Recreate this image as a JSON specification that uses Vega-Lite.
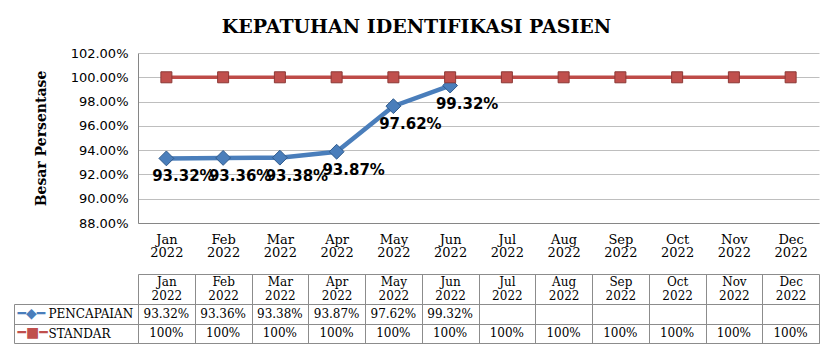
{
  "$schema": "https://vega.github.io/schema/vega-lite/v6.json",
  "background": "white",
  "padding": {"left": 13, "top": 18, "right": 14, "bottom": 5},
  "title": {
    "text": "KEPATUHAN IDENTIFIKASI  PASIEN",
    "font": "DejaVu Serif",
    "fontSize": 19,
    "fontWeight": "bold",
    "color": "black",
    "anchor": "middle",
    "offset": 10
  },
  "datasets": {
    "kinerja": [
      {"month": "Jan 2022", "series": "PENCAPAIAN", "value": 0.9332},
      {"month": "Feb 2022", "series": "PENCAPAIAN", "value": 0.9336},
      {"month": "Mar 2022", "series": "PENCAPAIAN", "value": 0.9338},
      {"month": "Apr 2022", "series": "PENCAPAIAN", "value": 0.9387},
      {"month": "May 2022", "series": "PENCAPAIAN", "value": 0.9762},
      {"month": "Jun 2022", "series": "PENCAPAIAN", "value": 0.9932},
      {"month": "Jan 2022", "series": "STANDAR", "value": 1.0},
      {"month": "Feb 2022", "series": "STANDAR", "value": 1.0},
      {"month": "Mar 2022", "series": "STANDAR", "value": 1.0},
      {"month": "Apr 2022", "series": "STANDAR", "value": 1.0},
      {"month": "May 2022", "series": "STANDAR", "value": 1.0},
      {"month": "Jun 2022", "series": "STANDAR", "value": 1.0},
      {"month": "Jul 2022", "series": "STANDAR", "value": 1.0},
      {"month": "Aug 2022", "series": "STANDAR", "value": 1.0},
      {"month": "Sep 2022", "series": "STANDAR", "value": 1.0},
      {"month": "Oct 2022", "series": "STANDAR", "value": 1.0},
      {"month": "Nov 2022", "series": "STANDAR", "value": 1.0},
      {"month": "Dec 2022", "series": "STANDAR", "value": 1.0}
    ]
  },
  "data": {"name": "kinerja"},
  "spacing": 13,
  "vconcat": [
    {
      "width": 681,
      "height": 170,
      "view": {"stroke": null},
      "encoding": {
        "x": {
          "field": "month",
          "type": "ordinal",
          "scale": {"type": "point", "padding": 0.5, "domain": ["Jan 2022", "Feb 2022", "Mar 2022", "Apr 2022", "May 2022", "Jun 2022", "Jul 2022", "Aug 2022", "Sep 2022", "Oct 2022", "Nov 2022", "Dec 2022"]},
          "axis": {
            "title": null,
            "labelAngle": 0,
            "labelExpr": "split(datum.label, ' ')",
            "labelFont": "DejaVu Serif",
            "labelFontSize": 13,
            "labelLineHeight": 13.5,
            "labelColor": "black",
            "labelPadding": 10,
            "ticks": false,
            "grid": false,
            "domainColor": "#868686",
            "domainWidth": 1
          }
        },
        "y": {
          "field": "value",
          "type": "quantitative",
          "scale": {"domain": [0.88, 1.02], "zero": false, "nice": false},
          "axis": {
            "title": "Besar Persentase",
            "titleFont": "DejaVu Serif",
            "titleFontSize": 14,
            "titleFontWeight": "bold",
            "titleColor": "black",
            "titlePadding": 22,
            "values": [0.88, 0.9, 0.92, 0.94, 0.96, 0.98, 1.0, 1.02],
            "format": ".2%",
            "labelFont": "DejaVu Sans",
            "labelFontSize": 13,
            "labelColor": "black",
            "labelPadding": 10,
            "ticks": false,
            "domainColor": "#868686",
            "gridColor": "#BEBEBE",
            "gridWidth": 1
          }
        }
      },
      "layer": [
        {
          "transform": [{"filter": "datum.series == 'PENCAPAIAN'"}],
          "mark": {"type": "line", "color": "#4A7EBB", "strokeWidth": 4.5}
        },
        {
          "transform": [{"filter": "datum.series == 'PENCAPAIAN'"}],
          "mark": {"type": "point", "shape": "diamond", "size": 220, "filled": true, "fill": "#4A7EBB", "stroke": "#2F5A8C", "strokeWidth": 1, "opacity": 1}
        },
        {
          "transform": [{"filter": "datum.series == 'STANDAR'"}],
          "mark": {"type": "line", "color": "#BE4B48", "strokeWidth": 3.5}
        },
        {
          "transform": [{"filter": "datum.series == 'STANDAR'"}],
          "mark": {"type": "point", "shape": "square", "size": 121, "filled": true, "fill": "#C0504D", "stroke": "#8C3836", "strokeWidth": 1, "opacity": 1}
        },
        {
          "transform": [{"filter": "datum.series == 'PENCAPAIAN'"}],
          "mark": {"type": "text", "font": "DejaVu Sans", "fontSize": 15, "fontWeight": "bold", "color": "black", "dx": 17, "dy": 18},
          "encoding": {"text": {"field": "value", "type": "quantitative", "format": ".2%"}}
        }
      ]
    },
    {
      "width": 681,
      "height": 39,
      "view": {"stroke": "#8C8C8C"},
      "resolve": {"axis": {"y": "independent", "x": "independent"}},
      "layer": [
        {
          "transform": [{"filter": "datum.series == 'PENCAPAIAN'"}],
          "mark": {"type": "text", "font": "DejaVu Serif", "fontSize": 12, "color": "black"},
          "encoding": {
            "x": {
              "field": "month",
              "type": "ordinal",
              "scale": {"type": "band", "paddingInner": 0, "paddingOuter": 0, "domain": ["Jan 2022", "Feb 2022", "Mar 2022", "Apr 2022", "May 2022", "Jun 2022", "Jul 2022", "Aug 2022", "Sep 2022", "Oct 2022", "Nov 2022", "Dec 2022"]},
              "axis": {
                "orient": "top",
                "title": null,
                "labelAngle": 0,
                "labelExpr": "split(datum.label, ' ')",
                "labelFont": "DejaVu Serif",
                "labelFontSize": 12,
                "labelLineHeight": 14,
                "labelColor": "black",
                "labelPadding": -14,
                "ticks": true,
                "tickSize": 30,
                "tickBand": "extent",
                "tickColor": "#8C8C8C",
                "domain": false,
                "grid": true,
                "gridColor": "#8C8C8C",
                "gridWidth": 1
              }
            },
            "y": {
              "field": "series",
              "type": "nominal",
              "scale": {"type": "band", "paddingInner": 0, "paddingOuter": 0, "domain": ["PENCAPAIAN", "STANDAR"]},
              "axis": {
                "orient": "left",
                "title": null,
                "domain": false,
                "ticks": true,
                "tickSize": 124,
                "tickBand": "extent",
                "tickColor": "#8C8C8C",
                "grid": true,
                "gridColor": "#8C8C8C",
                "labelAlign": "left",
                "labelBaseline": "middle",
                "labelPadding": -34,
                "labelFont": "DejaVu Serif",
                "labelFontSize": 12,
                "labelColor": "black"
              }
            },
            "text": {"field": "value", "type": "quantitative", "format": ".2%"}
          }
        },
        {
          "transform": [{"filter": "datum.series == 'STANDAR'"}],
          "mark": {"type": "text", "font": "DejaVu Serif", "fontSize": 12, "color": "black"},
          "encoding": {
            "x": {
              "field": "month",
              "type": "ordinal",
              "axis": {
                "orient": "top",
                "offset": 30,
                "title": null,
                "labels": false,
                "ticks": false,
                "grid": false,
                "domain": true,
                "domainColor": "#8C8C8C"
              }
            },
            "y": {
              "field": "series",
              "type": "nominal",
              "axis": {
                "orient": "left",
                "offset": 124,
                "title": null,
                "domain": true,
                "domainColor": "#8C8C8C",
                "ticks": false,
                "grid": false,
                "labelAlign": "left",
                "labelBaseline": "middle",
                "labelPadding": -3,
                "labelFont": "DejaVu Sans",
                "labelFontSize": 14,
                "labelExpr": "datum.value == 'PENCAPAIAN' ? '━◆━' : '━■━'",
                "labelColor": {"expr": "datum.value == 'PENCAPAIAN' ? '#4A7EBB' : '#C0504D'"}
              }
            },
            "text": {"field": "value", "type": "quantitative", "format": ".0%"}
          }
        }
      ]
    }
  ]
}
